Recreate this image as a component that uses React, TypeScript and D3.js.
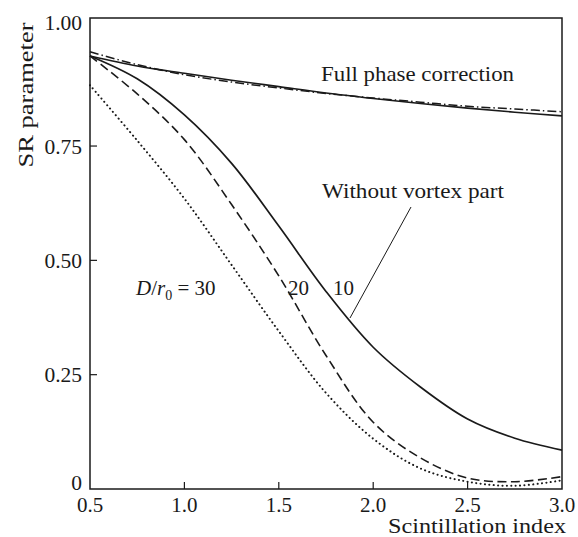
import React from "react";
import * as d3 from "d3";

const xValues = [0.5, 0.75, 1.0, 1.25, 1.5, 1.75, 2.0, 2.25, 2.5, 2.75, 3.0];
const fullSolid = [0.947, 0.925, 0.909, 0.894, 0.880, 0.866, 0.854, 0.843, 0.833, 0.824, 0.816];
const fullDashDot = [0.956, 0.928, 0.906, 0.890, 0.877, 0.865, 0.855, 0.846, 0.837, 0.831, 0.825];
const noVortex10 = [0.947, 0.897, 0.818, 0.712, 0.575, 0.432, 0.31, 0.223, 0.153, 0.111, 0.085];
const noVortex20 = [0.947, 0.864, 0.764, 0.622, 0.466, 0.292, 0.146, 0.068, 0.024, 0.016, 0.027];
const noVortex30 = [0.883, 0.762, 0.635, 0.49, 0.345, 0.21, 0.11, 0.045, 0.016, 0.007, 0.019];

const xTicks = [0.5, 1.0, 1.5, 2.0, 2.5, 3.0];
const xTickLabels = ["0.5", "1.0", "1.5", "2.0", "2.5", "3.0"];
const yTicks = [0, 0.25, 0.5, 0.75];
const yTickLabels = ["0", "0.25", "0.50", "0.75"];
const yTopLabel = "1.00";

const W = 578;
const H = 537;
const left = 90;
const right = 562;
const top = 18;
const bottom = 489;

const FONT = "'Liberation Serif', 'DejaVu Serif', serif";
const INK = "#1a1a1a";

export default function App() {
  const x = d3.scaleLinear().domain([0.5, 3.0]).range([left, right]);
  const y = d3.scaleLinear().domain([0, 1.03]).range([bottom, top]);

  const line = d3
    .line<[number, number]>()
    .x((d) => x(d[0]))
    .y((d) => y(d[1]))
    .curve(d3.curveCatmullRom.alpha(0.5));

  const mk = (vals: number[]) => line(xValues.map((xv, i) => [xv, vals[i]] as [number, number])) || "";

  const series = [
    { vals: fullSolid, dash: "none", w: 1.6, cap: "butt" },
    { vals: fullDashDot, dash: "9,3,1.5,3", w: 1.5, cap: "butt" },
    { vals: noVortex10, dash: "none", w: 1.7, cap: "butt" },
    { vals: noVortex20, dash: "9,4.5", w: 1.6, cap: "butt" },
    { vals: noVortex30, dash: "0.1,4.3", w: 2.0, cap: "round" },
  ];

  return (
    <svg
      width={W}
      height={H}
      style={{ position: "absolute", left: 0, top: 0, background: "#fff" }}
      fontFamily={FONT}
    >
      <rect x={0} y={0} width={W} height={H} fill="#fff" />
      {series.map((s, i) => (
        <path
          key={i}
          d={mk(s.vals)}
          fill="none"
          stroke={INK}
          strokeWidth={s.w}
          strokeLinecap={s.cap as any}
          strokeDasharray={s.dash}
        />
      ))}
      {/* frame */}
      <rect
        x={left}
        y={top}
        width={right - left}
        height={bottom - top}
        fill="none"
        stroke={INK}
        strokeWidth={1.5}
      />
      {/* x ticks */}
      {xTicks.map((t, i) => (
        <g key={"xt" + i}>
          {i > 0 && i < xTicks.length - 1 && (
            <line x1={x(t)} x2={x(t)} y1={bottom} y2={bottom - 7} stroke={INK} strokeWidth={1.2} />
          )}
          <text x={x(t)} y={512} textAnchor="middle" fontSize={21} fill={INK}>
            {xTickLabels[i]}
          </text>
        </g>
      ))}
      {/* y ticks */}
      {yTicks.map((t, i) => (
        <g key={"yt" + i}>
          {i > 0 && (
            <line x1={left} x2={left + 7} y1={y(t)} y2={y(t)} stroke={INK} strokeWidth={1.2} />
          )}
          <text
            x={82}
            y={Math.min(y(t), bottom - 7)}
            dy="0.35em"
            textAnchor="end"
            fontSize={21.5}
            fill={INK}
          >
            {yTickLabels[i]}
          </text>
        </g>
      ))}
      <text x={82} y={top + 4} dy="0.35em" textAnchor="end" fontSize={21.5} fill={INK}>
        {yTopLabel}
      </text>
      {/* axis titles */}
      <text
        transform={`translate(33, 95) rotate(-90)`}
        textAnchor="middle"
        fontSize={22}
        fill={INK}
        textLength={145}
        lengthAdjust="spacingAndGlyphs"
      >
        SR parameter
      </text>
      <text
        x={388}
        y={533}
        fontSize={21.5}
        fill={INK}
        textLength={178}
        lengthAdjust="spacingAndGlyphs"
      >
        Scintillation index
      </text>
      {/* annotations */}
      <text
        x={321}
        y={81}
        fontSize={22}
        fill={INK}
        textLength={193}
        lengthAdjust="spacingAndGlyphs"
      >
        Full phase correction
      </text>
      <text
        x={322}
        y={198}
        fontSize={22}
        fill={INK}
        textLength={182}
        lengthAdjust="spacingAndGlyphs"
      >
        Without vortex part
      </text>
      <line x1={411} y1={207} x2={350} y2={318} stroke={INK} strokeWidth={1} />
      <text x={136} y={295} fontSize={21} fill={INK}>
        <tspan fontStyle="italic">D</tspan>
        <tspan>/</tspan>
        <tspan fontStyle="italic">r</tspan>
        <tspan fontSize={14} dy={5}>0</tspan>
        <tspan dy={-5}> = 30</tspan>
      </text>
      <text x={288} y={295} fontSize={21} fill={INK}>
        20
      </text>
      <text x={333} y={295} fontSize={21} fill={INK}>
        10
      </text>
    </svg>
  );
}
